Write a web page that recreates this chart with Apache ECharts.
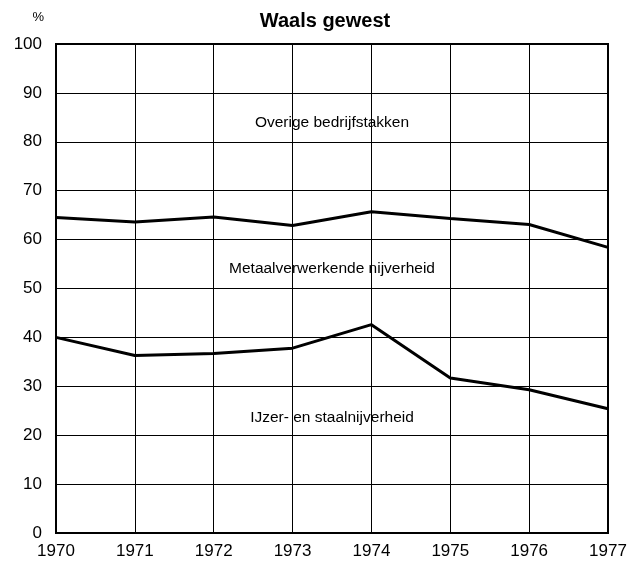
<!DOCTYPE html>
<html>
<head>
<meta charset="utf-8">
<script src="https://cdn.jsdelivr.net/npm/echarts@6/dist/echarts.min.js"></script>
<style>html,body{margin:0;padding:0;background:#fff}#c{width:639px;height:563px}</style>
</head>
<body>
<div id="c"></div>
<script>
// jaren en aandelen (%)
var years = [1970, 1971, 1972, 1973, 1974, 1975, 1976, 1977];
var metaal = [64.5, 63.6, 64.6, 62.9, 65.7, 64.3, 63.1, 58.4];
var ijzer = [40.0, 36.3, 36.7, 37.8, 42.6, 31.7, 29.3, 25.4];
var labels = [
  { name: 'Overige bedrijfstakken', coord: [1973.5, 84] },
  { name: 'Metaalverwerkende nijverheid', coord: [1973.5, 54] },
  { name: 'IJzer- en staalnijverheid', coord: [1973.5, 23.5] }
];

function pairs(vals) {
  return years.map(function (y, i) { return [y, vals[i]]; });
}

var myChart = echarts.init(document.getElementById('c'));
var font = 'Liberation Sans, Arial, sans-serif';

option = {
  animation: false,
  title: {
    text: 'Waals gewest',
    left: 320, top: 6,
    textAlign: 'center',
    textStyle: { fontFamily: font, fontSize: 20, fontWeight: 'bold', color: '#000' }
  },
  grid: { left: 56, right: 31, top: 44, bottom: 30, show: true, borderColor: '#000', borderWidth: 2 },
  xAxis: {
    type: 'value', min: 1970, max: 1977, interval: 1,
    axisLine: { show: false },
    axisTick: { show: false },
    axisLabel: { fontFamily: font, fontSize: 17, color: '#000', margin: 10,
      formatter: function (v) { return String(v); } },
    splitLine: { lineStyle: { color: '#000', width: 1 } }
  },
  yAxis: {
    type: 'value', min: 0, max: 100, interval: 10,
    name: '%', nameLocation: 'end', nameGap: 20,
    nameTextStyle: { fontFamily: font, fontSize: 13, color: '#000', align: 'right', padding: [0, 12, 0, 0] },
    axisLine: { show: false },
    axisTick: { show: false },
    axisLabel: { fontFamily: font, fontSize: 17, color: '#000', margin: 14 },
    splitLine: { lineStyle: { color: '#000', width: 1 } }
  },
  series: [
    {
      type: 'line', data: pairs(metaal), symbol: 'none',
      lineStyle: { color: '#000', width: 3 },
      markPoint: {
        symbol: 'circle', symbolSize: 0,
        label: { show: true, position: 'inside', formatter: '{b}', fontFamily: font, fontSize: 15.5, color: '#000' },
        data: labels
      }
    },
    {
      type: 'line', data: pairs(ijzer), symbol: 'none',
      lineStyle: { color: '#000', width: 3 }
    }
  ]
};

myChart.setOption(option);
</script>
</body>
</html>
